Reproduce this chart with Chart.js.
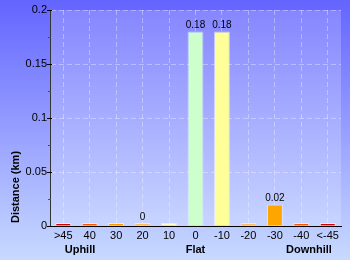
<!DOCTYPE html>
<html>
<head>
<meta charset="utf-8">
<script src="https://cdn.jsdelivr.net/npm/chart.js@4.4.0/dist/chart.umd.min.js"></script>
<style>
  html, body { margin: 0; padding: 0; }
  #wrap { width: 350px; height: 260px; }
</style>
</head>
<body>
<div id="wrap"><canvas id="grad-chart" width="350" height="260"></canvas></div>
<script>
// gradient bands (%) and distance per band (km)
var categories = ['>45', '40', '30', '20', '10', '0', '-10', '-20', '-30', '-40', '<-45'];
var distances = [0, 0, 0, 0.001, 0, 0.18, 0.18, 0, 0.02, 0, 0];
var barColours = ['#dd0000', '#ff5500', '#ff9900', '#ffbb66', '#ffffcc', '#ccffcc',
                  '#ffff99', '#ffbb66', '#ffa500', '#ff5500', '#dd0000'];
var yTicks = [0, 0.05, 0.1, 0.15, 0.2];
var yMinorTicks = [0.025, 0.075, 0.125, 0.175];
var groupTitles = ['Uphill', 'Flat', 'Downhill'];

var backdrop = {
    id: 'backdrop',
    beforeDraw: function (chart) {
        var ctx = chart.ctx, a = chart.chartArea;
        var g = ctx.createLinearGradient(0, 0, 0, chart.height);
        g.addColorStop(0, '#6464ff');
        g.addColorStop(1, '#c8daff');
        ctx.save();
        ctx.fillStyle = g;
        ctx.fillRect(0, 0, chart.width, chart.height);
        ctx.fillStyle = 'rgba(255,255,255,0.2)';
        ctx.fillRect(a.left, a.top, a.right - a.left, a.bottom - a.top);
        ctx.restore();
    }
};

var extras = {
    id: 'extras',
    afterDatasetsDraw: function (chart) {
        var ctx = chart.ctx, y = chart.scales.y, x = chart.scales.x;
        ctx.save();
        // value labels
        ctx.font = '10px "Liberation Sans"';
        ctx.fillStyle = '#000';
        ctx.textAlign = 'center';
        ctx.textBaseline = 'bottom';
        chart.getDatasetMeta(0).data.forEach(function (bar, i) {
            var v = distances[i];
            if (v > 0) {
                ctx.fillText(String(Number(v.toFixed(2))), bar.x, bar.y - 1);
            }
        });
        // tick marks on the y axis
        ctx.lineWidth = 1;
        ctx.strokeStyle = '#000';
        yTicks.forEach(function (t) {
            var py = Math.round(y.getPixelForValue(t)) + 0.5;
            ctx.beginPath(); ctx.moveTo(47, py); ctx.lineTo(52, py); ctx.stroke();
        });
        ctx.strokeStyle = '#ff0000';
        yMinorTicks.forEach(function (t) {
            var py = Math.round(y.getPixelForValue(t)) + 0.5;
            ctx.beginPath(); ctx.moveTo(48, py); ctx.lineTo(51, py); ctx.stroke();
        });
        // axis and group titles
        ctx.font = 'bold 11px "Liberation Sans"';
        ctx.fillStyle = '#000';
        ctx.textBaseline = 'middle';
        ctx.fillText(groupTitles[0], 80, 250);
        ctx.fillText(groupTitles[1], x.getPixelForValue(5), 250);
        ctx.fillText(groupTitles[2], 309, 250);
        ctx.translate(16, 187);
        ctx.rotate(-Math.PI / 2);
        ctx.fillText('Distance (km)', 0, 0);
        ctx.restore();
    }
};

var tickFont = { family: 'Liberation Sans', size: 11 };

new Chart(document.getElementById('grad-chart'), {
    type: 'bar',
    data: {
        labels: categories,
        datasets: [{
            data: distances,
            backgroundColor: barColours,
            borderColor: 'rgba(255,255,255,0.5)',
            borderWidth: 1,
            borderSkipped: 'bottom',
            minBarLength: 3,
            categoryPercentage: 1,
            barPercentage: 0.6
        }]
    },
    options: {
        responsive: false,
        animation: false,
        layout: { padding: { top: 10, right: 9, left: 0, bottom: 0 } },
        plugins: { legend: { display: false }, tooltip: { enabled: false } },
        scales: {
            x: {
                grid: { offset: false, color: 'rgba(255,255,255,0.35)', drawTicks: false },
                border: { color: '#000', dash: [5, 3] },
                ticks: { color: '#000', font: tickFont, padding: 3, maxRotation: 0, autoSkip: false },
                afterFit: function (s) { s.height = 34; }
            },
            y: {
                min: 0, max: 0.2,
                grid: { color: 'rgba(255,255,255,0.35)', drawTicks: false },
                border: { color: '#333', dash: [5, 3] },
                ticks: {
                    color: '#000', font: tickFont, padding: 3,
                    callback: function (v) { return String(v); }
                },
                afterBuildTicks: function (s) { s.ticks = yTicks.map(function (v) { return { value: v }; }); },
                afterFit: function (s) { s.width = 50; }
            }
        }
    },
    plugins: [backdrop, extras]
});
</script>
</body>
</html>
